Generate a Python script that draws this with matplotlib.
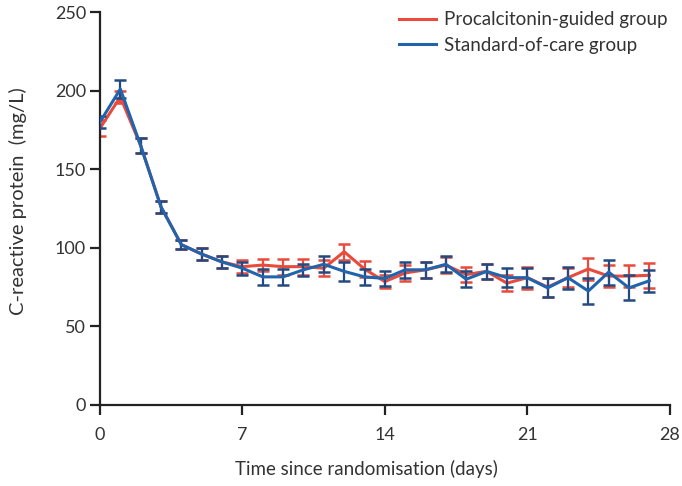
import matplotlib.pyplot as plt

plt.rcParams['font.family'] = ['Lato', 'DejaVu Sans']

# Data
days = list(range(28))
pct = [176, 196, 165, 126, 102, 96, 91, 88, 89, 88, 88, 87, 97.5, 86.5, 78.5,
       84, 86, 89, 83, 85, 77.5, 81, 75, 81, 86.5, 82, 82, 82.5]
pct_err = [5, 4, 5, 4, 3, 4, 4, 4, 4, 5, 5, 5, 5, 5, 4,
           5, 5, 5, 5, 5, 5, 7, 6, 6, 7, 7, 7, 8]
soc = [180, 201, 165, 126, 102, 96, 91, 87, 81.5, 81.5, 86, 89.5, 85, 81.5, 80.5,
       86, 86, 89.5, 80, 85, 81, 81, 74.5, 81, 72.5, 84.5, 74.5, 79]
soc_err = [4, 6, 5, 4, 3, 4, 4, 4, 5, 5, 4, 5, 6, 5, 5,
           5, 5, 5, 5, 5, 6, 6, 6, 7, 8, 8, 8, 7]

red = '#e84a3c'
blue = '#2064ae'

fig = plt.figure(figsize=(6.82, 4.86), dpi=100)
ax = fig.add_axes([0.1466, 0.1667, 0.8354, 0.8086])

ax.errorbar(days, pct, yerr=pct_err, color=red, lw=2.2, elinewidth=1.6,
            capsize=4, capthick=1.8, label='Procalcitonin-guided group', zorder=2)
ax.errorbar(days, soc, yerr=soc_err, color=blue, ecolor='#234a80', lw=2.2,
            elinewidth=1.6, capsize=4, capthick=1.8,
            label='Standard-of-care group', zorder=3)

ax.set_xlim(0, 28)
ax.set_ylim(0, 250)
ax.set_xticks([0, 7, 14, 21, 28])
ax.set_yticks([0, 50, 100, 150, 200, 250])
ax.spines['top'].set_visible(False)
ax.spines['right'].set_visible(False)
for s in ['left', 'bottom']:
    ax.spines[s].set_linewidth(1.6)
    ax.spines[s].set_color('#222222')
ax.tick_params(direction='out', length=7, width=1.6, color='#222222',
               labelsize=13, labelcolor='#333333')
ax.tick_params(axis='x', pad=9)
ax.tick_params(axis='y', pad=3)
ax.set_xlabel('Time since randomisation (days)', fontsize=13.5, color='#333333')
ax.xaxis.set_label_coords(0.468, -0.14)
ax.set_ylabel('C-reactive protein  (mg/L)', fontsize=14.5, color='#333333')
ax.yaxis.set_label_coords(-0.128, 0.52)

handles, labels = ax.get_legend_handles_labels()
handles = [h[0] for h in handles]
ax.legend(handles, labels, loc='upper right', bbox_to_anchor=(1.025, 1.045),
          frameon=False, fontsize=13.5, handlelength=2.0, handletextpad=0.4,
          labelspacing=0.45, labelcolor='#333333')

fig.savefig('out.png', dpi=100)
